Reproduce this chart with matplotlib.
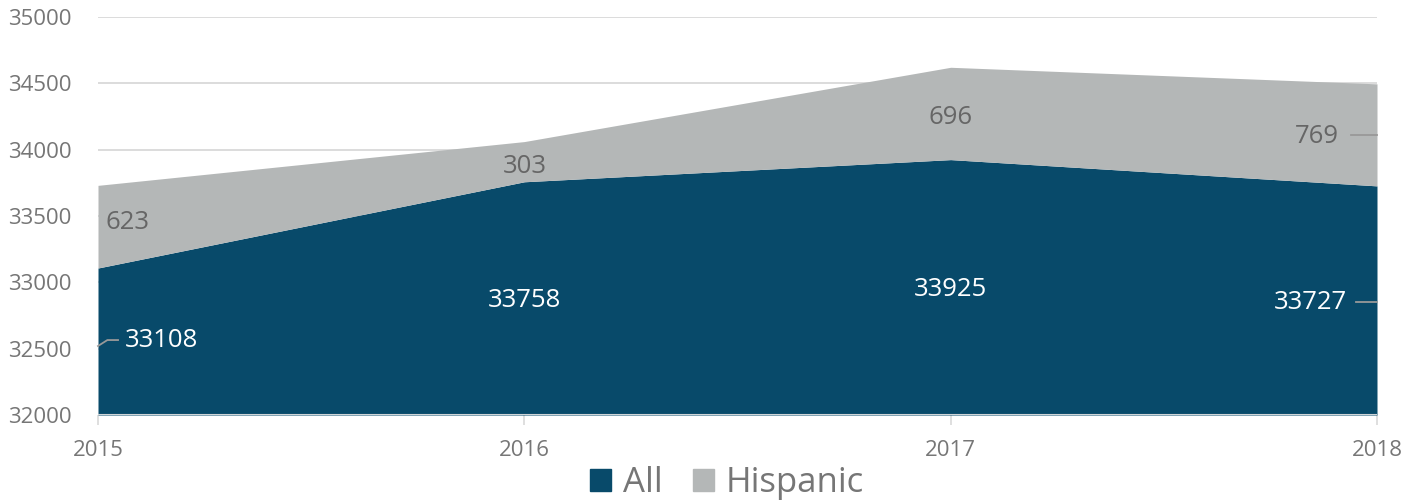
import matplotlib
matplotlib.use("Agg")
import matplotlib.pyplot as plt
from matplotlib.patches import Patch

years = [2015, 2016, 2017, 2018]
all_vals = [33108, 33758, 33925, 33727]
hisp_vals = [623, 303, 696, 769]
series_names = ["All", "Hispanic"]
yticks = [32000, 32500, 33000, 33500, 34000, 34500, 35000]

c_all = "#084a6a"
c_hisp = "#b4b7b7"
tick_col = "#767676"

plt.rcParams['font.family'] = ['Open Sans', 'DejaVu Sans']

fig = plt.figure(figsize=(14.19, 5.04), dpi=100)
ax = fig.add_axes([98/1419, 1-415/504, (1377-98)/1419, (415-17)/504])

tops = [a + h for a, h in zip(all_vals, hisp_vals)]
ax.fill_between(years, 32000, all_vals, color=c_all, lw=0, zorder=2)
ax.fill_between(years, all_vals, tops, color=c_hisp, lw=0, zorder=2)

ax.set_xlim(2015, 2018)
ax.set_ylim(32000, 35000)
ax.set_yticks(yticks)
ax.set_yticklabels([str(v) for v in yticks])
ax.set_xticks(years)
ax.set_xticklabels([str(y) for y in years])
for s in ax.spines.values():
    s.set_visible(False)
ax.grid(axis='y', color='#d9d9d9', lw=1.3, zorder=1)
ax.axhline(32000, color='#d0d5d8', lw=1.5, zorder=3)
ax.tick_params(axis='y', length=0, pad=19, labelsize=16, labelcolor=tick_col)
ax.tick_params(axis='x', length=7, width=1.2, color='#d9d9d9', pad=11, labelsize=16, labelcolor=tick_col)

# data labels: All (white), Hispanic (dark gray)
all_lab_pos = [(2015.062, 32565, 'left'), (2016.0, 32865, 'center'), (2017.0, 32945, 'center'), (2017.93, 32850, 'right')]
hisp_lab_pos = [(2015.07, 33450, 'center'), (2016.0, 33870, 'center'), (2017.0, 34245, 'center'), (2017.91, 34100, 'right')]
for v, (x, y, ha) in zip(all_vals, all_lab_pos):
    ax.text(x, y, str(v), color='white', fontsize=18.5, ha=ha, va='center', zorder=5)
for v, (x, y, ha) in zip(hisp_vals, hisp_lab_pos):
    ax.text(x, y, str(v), color='#666666', fontsize=18.5, ha=ha, va='center', zorder=5)

# leader lines
ax.plot([2015.0, 2015.022, 2015.047], [32520, 32565, 32565], color='#999999', lw=1.3, zorder=5, clip_on=False)
ax.plot([2017.95, 2018.0], [32855, 32855], color='#999999', lw=1.3, zorder=5, clip_on=False)
ax.plot([2017.94, 2018.0], [34110, 34110], color='#999999', lw=1.3, zorder=5, clip_on=False)

handles = [Patch(color=c_all), Patch(color=c_hisp)]
fig.legend(handles, series_names, loc='center', bbox_to_anchor=(0.5125, 1-483/504), ncol=2,
           frameon=False, fontsize=25, labelcolor=tick_col, handlelength=0.6, handleheight=0.6,
           handletextpad=0.35, columnspacing=0.85)

fig.savefig("out.png", dpi=100)
